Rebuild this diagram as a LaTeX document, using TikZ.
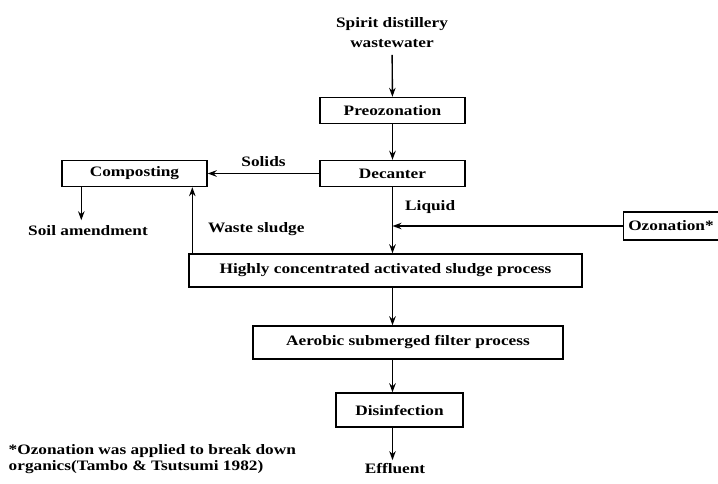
\documentclass[tikz,border=0pt]{standalone}
\usepackage{fontspec}
\setmainfont[FakeStretch=1.2]{Liberation Serif}
\usetikzlibrary{arrows.meta}

\begin{document}
\begin{tikzpicture}[x=1pt,y=-1pt,
    font=\fontsize{14.4}{15}\selectfont\bfseries,
    line width=1.4pt,
    >={Stealth[length=9pt,width=6.5pt]},
    box/.style={draw,inner sep=0pt,minimum width=#1,minimum height=26pt},
    lbl/.style={inner sep=0pt}]
  \useasboundingbox (0,0) rectangle (718,483);
  % boxes of the process line
  \node[lbl,align=center] (src) at (392,33) {Spirit distillery\\[5pt]wastewater};
  \node[box=145pt] (pre) at (392.5,110.5) {Preozonation};
  \node[box=145pt] (dec) at (392.5,173.5) {Decanter};
  \node[box=145pt] (comp) at (134.5,173.5) {Composting};
  \node[box=95pt,minimum height=28pt] (oz) at (671,226) {Ozonation*};
  \node[box=393pt,minimum height=33pt] (hcas) at (385.5,270.5) {Highly concentrated activated sludge process};
  \node[box=310pt,minimum height=33pt] (aer) at (408,342.5) {Aerobic submerged filter process};
  \node[box=127pt,minimum height=34pt] (dis) at (399.5,410) {Disinfection};
  \node[lbl] (eff) at (395,469) {Effluent};
  \node[lbl] (soil) at (88,231) {Soil amendment};
  \node[lbl,align=left,anchor=west] (note) at (8,459.5) {*Ozonation was applied to break down\\[1pt]organics(Tambo \& Tsutsumi 1982)};
  \coordinate (join) at (dec.south |- oz.west);
  % flows
  \draw[->,shorten <=6pt] (src) -- (pre);
  \draw[->] (pre) -- (dec);
  \draw[->] (dec) -- node[lbl,above=6pt] {Solids} (comp);
  \draw[->,shorten >=5pt] ([xshift=20pt]comp.south west) -- ([xshift=20pt]comp.south west |- soil.north);
  \draw[->] ([xshift=4pt]hcas.north west) -- node[lbl,pos=0.37,right=15pt] {Waste sludge} ([xshift=4pt]hcas.north west |- comp.south);
  \draw[->] (dec) -- node[lbl,pos=0.3,right=12pt] {Liquid} (dec.south |- hcas.north);
  \draw[->] (oz) -- (join);
  \draw[->] (dec.south |- hcas.south) -- (dec.south |- aer.north);
  \draw[->] (dec.south |- aer.south) -- (dec.south |- dis.north);
  \draw[->,shorten >=3pt] (dec.south |- dis.south) -- (dec.south |- eff.north);
\end{tikzpicture}
\end{document}
